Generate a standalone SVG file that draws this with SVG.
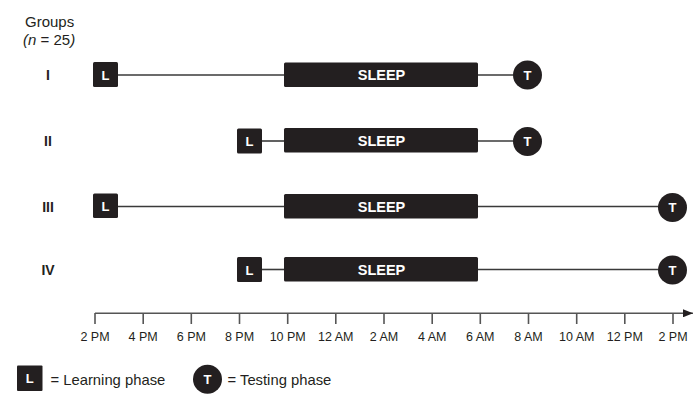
<svg xmlns="http://www.w3.org/2000/svg" width="700" height="406" viewBox="0 0 700 406">
<defs>
<style>
.box{fill:#231f20;}
.lbl{font-family:"Liberation Sans",Arial,sans-serif;fill:#fff;font-weight:bold;text-anchor:middle;}
.row{font-family:"Liberation Sans",Arial,sans-serif;fill:#231f20;font-weight:bold;font-size:14px;text-anchor:middle;}
.txt{font-family:"Liberation Sans",Arial,sans-serif;fill:#231f20;}
.tick{font-family:"Liberation Sans",Arial,sans-serif;fill:#231f20;font-size:12.5px;text-anchor:middle;}
.conn{stroke:#3a3a3a;stroke-width:1.6;fill:none;}
.axis{stroke:#555;stroke-width:1.6;fill:none;}
</style>
<marker id="arr" viewBox="0 0 10 8" refX="10" refY="4" markerWidth="10" markerHeight="8" markerUnits="userSpaceOnUse" orient="auto">
<path d="M0,0 L10,4 L0,8 Z" fill="#231f20"/>
</marker>
</defs>
<rect width="700" height="406" fill="#fff"/>

<g id="header">
<text class="txt" x="25" y="27" font-size="15">Groups</text>
<text class="txt" x="23" y="45" font-size="15"><tspan font-style="italic">(n</tspan> = 25<tspan font-style="italic">)</tspan></text>
</g>

<g id="row-labels">
<text class="row" x="48" y="80">I</text>
<text class="row" x="48" y="146">II</text>
<text class="row" x="48" y="212">III</text>
<text class="row" x="48" y="275">IV</text>
</g>

<g id="connectors">
<line class="conn" x1="118" y1="75" x2="284" y2="75"/>
<line class="conn" x1="478" y1="75" x2="513" y2="75"/>
<line class="conn" x1="262" y1="141" x2="284" y2="141"/>
<line class="conn" x1="478" y1="141" x2="513" y2="141"/>
<line class="conn" x1="118" y1="206.5" x2="284" y2="206.5"/>
<line class="conn" x1="478" y1="206.5" x2="658" y2="206.5"/>
<line class="conn" x1="262" y1="269.5" x2="284" y2="269.5"/>
<line class="conn" x1="478" y1="269.5" x2="658" y2="269.5"/>
</g>

<g id="row1">
<g id="row1-L"><rect class="box" x="93" y="62" width="25" height="25" rx="1.5"/><text class="lbl" x="105.5" y="79.5" font-size="13">L</text></g>
<g id="row1-sleep"><rect class="box" x="284" y="62.5" width="194" height="24.5" rx="1.5"/><text class="lbl" x="381.5" y="80" font-size="14.5">SLEEP</text></g>
<g id="row1-T"><circle class="box" cx="527.5" cy="75" r="14.5"/><text class="lbl" x="527.5" y="79.5" font-size="13">T</text></g>
</g>

<g id="row2">
<g id="row2-L"><rect class="box" x="237" y="128.5" width="25" height="25" rx="1.5"/><text class="lbl" x="249.5" y="146" font-size="13">L</text></g>
<g id="row2-sleep"><rect class="box" x="284" y="128" width="194" height="24.5" rx="1.5"/><text class="lbl" x="381.5" y="145.5" font-size="14.5">SLEEP</text></g>
<g id="row2-T"><circle class="box" cx="527.5" cy="141.5" r="14.5"/><text class="lbl" x="527.5" y="146" font-size="13">T</text></g>
</g>

<g id="row3">
<g id="row3-L"><rect class="box" x="93" y="193.5" width="25" height="24.5" rx="1.5"/><text class="lbl" x="105.5" y="211" font-size="13">L</text></g>
<g id="row3-sleep"><rect class="box" x="284" y="194" width="194" height="24.5" rx="1.5"/><text class="lbl" x="381.5" y="211.5" font-size="14.5">SLEEP</text></g>
<g id="row3-T"><circle class="box" cx="672.5" cy="207.5" r="14.5"/><text class="lbl" x="672.5" y="212" font-size="13">T</text></g>
</g>

<g id="row4">
<g id="row4-L"><rect class="box" x="237" y="257" width="25" height="25" rx="1.5"/><text class="lbl" x="249.5" y="274.5" font-size="13">L</text></g>
<g id="row4-sleep"><rect class="box" x="284" y="257" width="194" height="24.5" rx="1.5"/><text class="lbl" x="381.5" y="274.5" font-size="14.5">SLEEP</text></g>
<g id="row4-T"><circle class="box" cx="672.5" cy="270" r="14.5"/><text class="lbl" x="672.5" y="274.5" font-size="13">T</text></g>
</g>

<g id="axis">
<line class="axis" x1="95" y1="313.3" x2="693" y2="313.3" marker-end="url(#arr)"/>
<g class="axis">
<line x1="95" y1="313" x2="95" y2="324"/>
<line x1="143.2" y1="313" x2="143.2" y2="324"/>
<line x1="191.3" y1="313" x2="191.3" y2="324"/>
<line x1="239.5" y1="313" x2="239.5" y2="324"/>
<line x1="287.7" y1="313" x2="287.7" y2="324"/>
<line x1="335.8" y1="313" x2="335.8" y2="324"/>
<line x1="384" y1="313" x2="384" y2="324"/>
<line x1="432.2" y1="313" x2="432.2" y2="324"/>
<line x1="480.3" y1="313" x2="480.3" y2="324"/>
<line x1="528.5" y1="313" x2="528.5" y2="324"/>
<line x1="576.7" y1="313" x2="576.7" y2="324"/>
<line x1="624.8" y1="313" x2="624.8" y2="324"/>
<line x1="673" y1="313" x2="673" y2="324"/>
</g>
<text class="tick" x="95" y="341">2 PM</text>
<text class="tick" x="143.2" y="341">4 PM</text>
<text class="tick" x="191.3" y="341">6 PM</text>
<text class="tick" x="239.5" y="341">8 PM</text>
<text class="tick" x="287.7" y="341">10 PM</text>
<text class="tick" x="335.8" y="341">12 AM</text>
<text class="tick" x="384" y="341">2 AM</text>
<text class="tick" x="432.2" y="341">4 AM</text>
<text class="tick" x="480.3" y="341">6 AM</text>
<text class="tick" x="528.5" y="341">8 AM</text>
<text class="tick" x="576.7" y="341">10 AM</text>
<text class="tick" x="624.8" y="341">12 PM</text>
<text class="tick" x="673" y="341">2 PM</text>
</g>

<g id="legend">
<g id="legend-L"><rect class="box" x="17" y="365.5" width="25.5" height="25.5" rx="1"/><text class="lbl" x="29.7" y="383" font-size="13">L</text></g>
<text class="txt" x="50.5" y="384.5" font-size="14.8">= Learning phase</text>
<g id="legend-T"><circle class="box" cx="207.5" cy="379.3" r="14.5"/><text class="lbl" x="207.5" y="384" font-size="13">T</text></g>
<text class="txt" x="227.5" y="384.5" font-size="14.8">= Testing phase</text>
</g>
</svg>
